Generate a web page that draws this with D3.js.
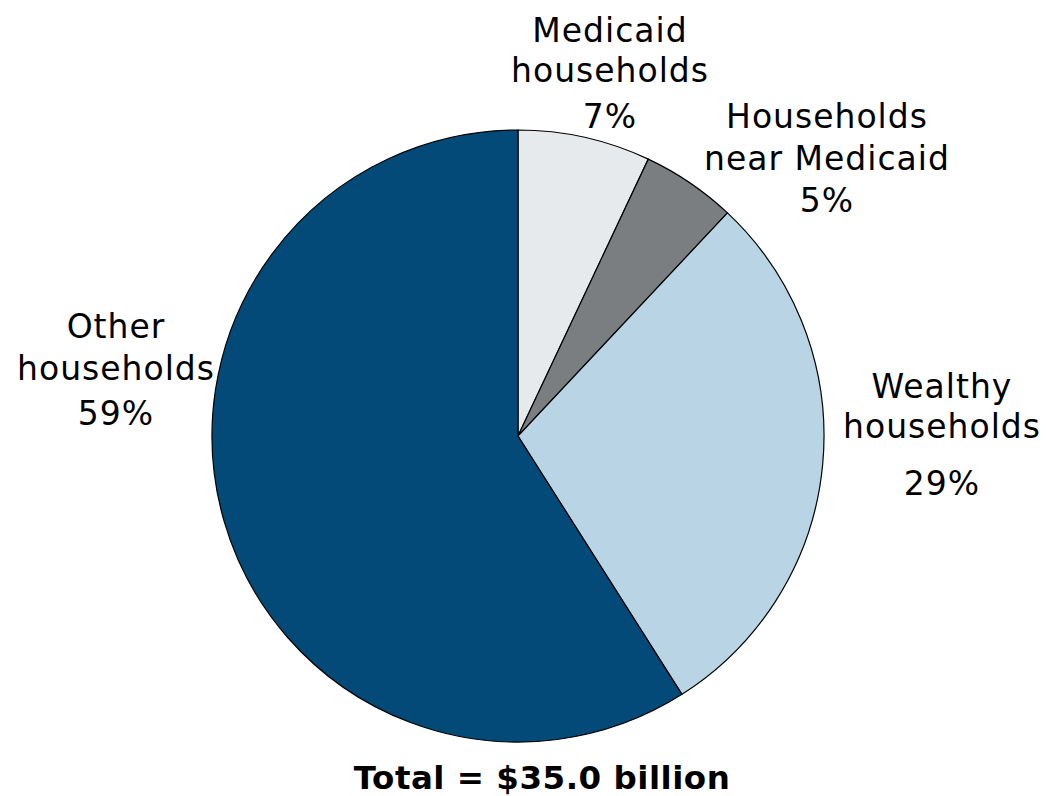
<!DOCTYPE html>
<html>
<head>
<meta charset="utf-8">
<script src="https://cdn.jsdelivr.net/npm/d3@7"></script>
<style>
  body { margin: 0; background: white; }
  text { font-family: "DejaVu Sans", sans-serif; fill: black; }
</style>
</head>
<body>
<div class="board"></div>
<script>
var width = 1050,
    height = 796

CATEGORIES = ["Medicaid households", "Households near Medicaid", "Wealthy households", "Other households"]
VALUES = [7, 5, 29, 59]
LABEL_LINES = [
    ["Medicaid", "households", "7%"],
    ["Households", "near Medicaid", "5%"],
    ["Wealthy", "households", "29%"],
    ["Other", "households", "59%"]
]
TOTAL_LABEL = "Total = $35.0 billion"

COLORS = ["#e6eaec", "#7b7e81", "#b9d5e5", "#034a79"]

// label anchor (center x, first baseline y) and line baselines offsets
LABEL_POS = [
    { x: 610, y: 42, dy: [0, 40, 86] },
    { x: 827, y: 128, dy: [0, 42, 84] },
    { x: 942, y: 398, dy: [0, 40, 97] },
    { x: 116, y: 338, dy: [0, 42, 87] }
]

CX = 518
CY = 436
RADIUS = 306

var svg = d3.select(".board")
    .append("svg")
    .attr("width", width)
    .attr("height", height)

var pie = d3.pie()
    .sort(null)
    .value(d => d)

var arc = d3.arc()
    .innerRadius(0)
    .outerRadius(RADIUS)

var g = svg.append("g")
    .attr("transform", `translate(${CX}, ${CY})`)

g.selectAll(".slice")
    .data(pie(VALUES))
    .enter()
    .append("path")
    .classed("slice", true)
    .attr("d", arc)
    .attr("fill", (d, i) => COLORS[i])
    .attr("stroke", "black")
    .attr("stroke-width", 1.2)

var labels = svg.selectAll(".label")
    .data(LABEL_LINES)
    .enter()
    .append("text")
    .classed("label", true)
    .attr("text-anchor", "middle")
    .attr("font-size", 33)
    .attr("letter-spacing", 1)

labels.selectAll("tspan")
    .data((d, i) => d.map((line, j) => ({ line: line, x: LABEL_POS[i].x, y: LABEL_POS[i].y + LABEL_POS[i].dy[j] })))
    .enter()
    .append("tspan")
    .attr("x", d => d.x)
    .attr("y", d => d.y)
    .text(d => d.line)

svg.append("text")
    .attr("x", 542)
    .attr("y", 789)
    .attr("text-anchor", "middle")
    .attr("font-size", 32.5)
    .attr("font-weight", "bold")
    .attr("letter-spacing", 0.5)
    .text(TOTAL_LABEL)
</script>
</body>
</html>
